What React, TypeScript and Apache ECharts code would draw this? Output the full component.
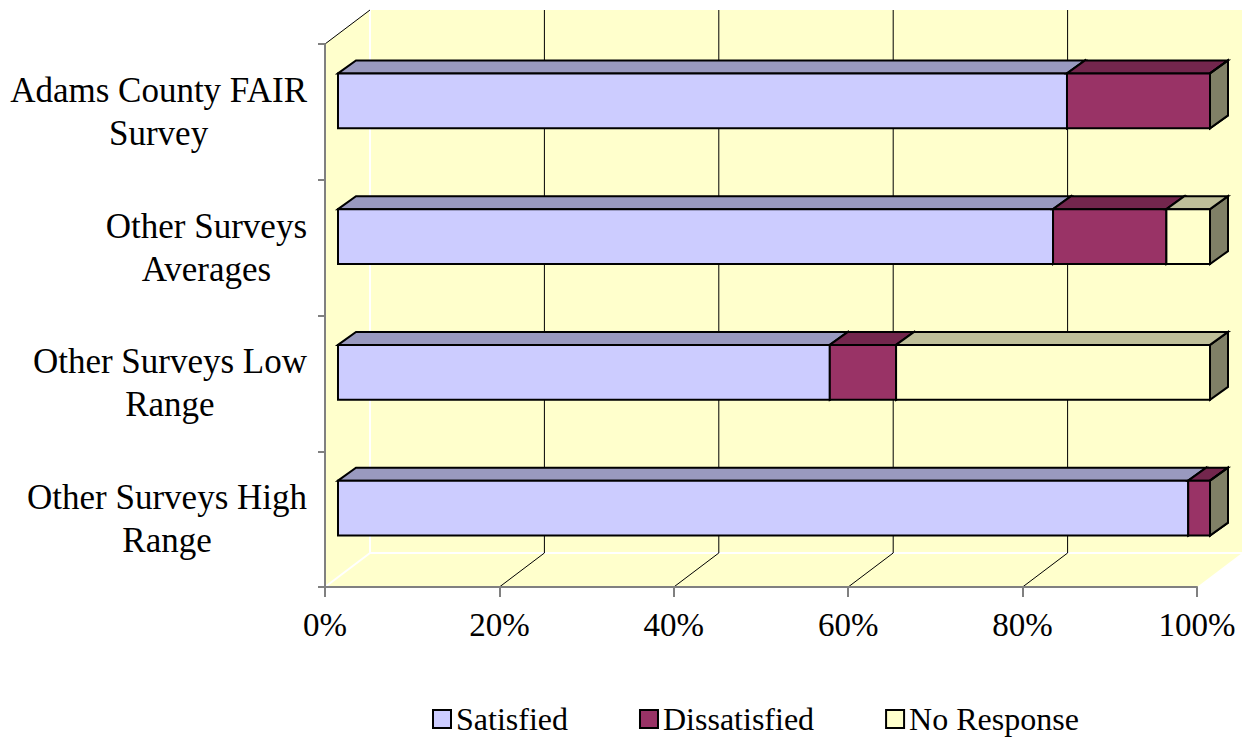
import React, { useEffect, useRef } from "react";
import * as echarts from "echarts";

const categories = [
  "Adams County FAIR\nSurvey",
  "Other Surveys\nAverages",
  "Other Surveys Low\nRange",
  "Other Surveys High\nRange",
];
const seriesNames = ["Satisfied", "Dissatisfied", "No Response"];
const satisfied = [83.6, 82, 56.4, 97.5];
const dissatisfied = [16.4, 13, 7.6, 2.5];
const noResponse = [0, 5, 36, 0];
const gridValues = [20, 40, 60, 80];
const colors = ["#CCCCFF", "#993366", "#FFFFCC"];

const FONT = "'Liberation Serif','Times New Roman',serif";
const WALL = "#FFFFCC";
const DX = 45;
const DY = 34;
const FX = 13;
const FY = 11;
const BX = 18;
const BY = 13;

function shade(hex: string, f: number) {
  const n = parseInt(hex.slice(1), 16);
  const r = Math.round(((n >> 16) & 255) * f);
  const g = Math.round(((n >> 8) & 255) * f);
  const b = Math.round((n & 255) * f);
  return "rgb(" + r + "," + g + "," + b + ")";
}

export default function App() {
  const ref = useRef<HTMLDivElement>(null);
  useEffect(() => {
    if (!ref.current) return;
    const chart = echarts.init(ref.current, undefined, { renderer: "svg" });
    const values = [satisfied, dissatisfied, noResponse];
    const stacked = values.map((arr, si) =>
      arr.map((v, ci) => {
        let start = 0;
        for (let k = 0; k < si; k++) start += values[k][ci];
        return [ci, start, start + v];
      })
    );

    const wallsSeries = {
      type: "custom",
      name: "walls",
      silent: true,
      clip: false,
      z: 1,
      data: [[0, 0]],
      renderItem: (params: any, api: any) => {
        const cs = params.coordSys;
        const x0 = cs.x, y0 = cs.y, x1 = cs.x + cs.width, y1 = cs.y + cs.height;
        const children: any[] = [
          { type: "polygon", shape: { points: [[x0, y0], [x0 + DX, y0 - DY], [x0 + DX, y1 - DY], [x0, y1]] }, style: { fill: WALL } },
          { type: "rect", shape: { x: x0 + DX, y: y0 - DY, width: cs.width, height: cs.height }, style: { fill: WALL } },
          { type: "polygon", shape: { points: [[x0, y1], [x0 + DX, y1 - DY], [x1 + DX, y1 - DY], [x1, y1]] }, style: { fill: WALL } },
          { type: "line", shape: { x1: x0 + DX, y1: y0 - DY, x2: x0 + DX, y2: y1 - DY }, style: { stroke: "#fff", lineWidth: 2 } },
          { type: "line", shape: { x1: x0 + DX, y1: y1 - DY, x2: x1 + DX, y2: y1 - DY }, style: { stroke: "#fff", lineWidth: 2 } },
          { type: "line", shape: { x1: x0, y1: y1, x2: x0 + DX, y2: y1 - DY }, style: { stroke: "#fff", lineWidth: 2 } },
          { type: "line", shape: { x1: x0, y1: y0, x2: x0 + DX, y2: y0 - DY }, style: { stroke: "#000", lineWidth: 1 } },
        ];
        gridValues.forEach((v) => {
          const gx = api.coord([v, 0])[0];
          children.push({ type: "line", shape: { x1: gx + DX, y1: y0 - DY, x2: gx + DX, y2: y1 - DY }, style: { stroke: "#000", lineWidth: 1 } });
          children.push({ type: "line", shape: { x1: gx, y1: y1, x2: gx + DX, y2: y1 - DY }, style: { stroke: "#000", lineWidth: 1 } });
        });
        return { type: "group", children };
      },
    };

    const barSeries = seriesNames.map((name, si) => ({
      type: "custom",
      name,
      clip: false,
      z: 2,
      itemStyle: { color: colors[si], borderColor: "#000", borderWidth: 2 },
      encode: { x: [1, 2], y: 0 },
      data: stacked[si],
      renderItem: (params: any, api: any) => {
        const cat = api.value(0);
        const s = api.value(1);
        const e = api.value(2);
        const p0 = api.coord([s, cat]);
        const p1 = api.coord([e, cat]);
        const band = api.size([0, 1])[1];
        const h = band * 0.405;
        const xs = p0[0] + FX;
        const xe = p1[0] + FX;
        const yc = p0[1] - FY;
        const yt = yc - h / 2;
        const yb = yc + h / 2;
        const stroke = { stroke: "#000", lineWidth: 2, lineJoin: "miter" };
        return {
          type: "group",
          children: [
            { type: "polygon", shape: { points: [[xe, yt], [xe + BX, yt - BY], [xe + BX, yb - BY], [xe, yb]] }, style: { fill: shade(colors[si], 0.5), ...stroke } },
            { type: "polygon", shape: { points: [[xs, yt], [xs + BX, yt - BY], [xe + BX, yt - BY], [xe, yt]] }, style: { fill: shade(colors[si], 0.75), ...stroke } },
            { type: "rect", shape: { x: xs, y: yt, width: xe - xs, height: h }, style: { fill: colors[si], ...stroke } },
          ],
        };
      },
    }));

    chart.setOption({
      animation: false,
      backgroundColor: "#fff",
      textStyle: { fontFamily: FONT, color: "#000" },
      grid: { left: 325, right: 47, top: 44, bottom: 153, containLabel: false },
      xAxis: {
        type: "value",
        min: 0,
        max: 100,
        interval: 20,
        z: 10,
        axisLine: { show: true, lineStyle: { color: "#808080", width: 2 } },
        axisTick: { show: true, length: 10, lineStyle: { color: "#808080", width: 2 } },
        splitLine: { show: false },
        axisLabel: { formatter: "{value}%", fontSize: 33, fontFamily: FONT, color: "#000", margin: 21 },
      },
      yAxis: {
        type: "category",
        inverse: true,
        data: categories,
        z: 10,
        axisLine: { show: true, lineStyle: { color: "#808080", width: 2 } },
        axisTick: { show: true, length: 7, lineStyle: { color: "#808080", width: 2 } },
        splitLine: { show: false },
        axisLabel: {
          margin: 18,
          align: "right",
          formatter: (v: string) => v.split("\n").map((s) => "{c|" + s + "}").join("\n"),
          rich: { c: { align: "center", fontSize: 35, lineHeight: 43, fontFamily: FONT, color: "#000" } },
        },
      },
      legend: {
        data: seriesNames,
        left: 427,
        top: 698,
        icon: "rect",
        itemWidth: 18,
        itemHeight: 18,
        itemGap: 71,
        itemStyle: { borderColor: "#000", borderWidth: 2 },
        textStyle: { fontSize: 32, fontFamily: FONT, color: "#000" },
        selectedMode: false,
      },
      series: [wallsSeries, ...barSeries],
    });
    return () => chart.dispose();
  }, []);
  return (
    <div
      ref={ref}
      style={{ position: "absolute", left: 0, top: 0, width: 1244, height: 740 }}
    />
  );
}
